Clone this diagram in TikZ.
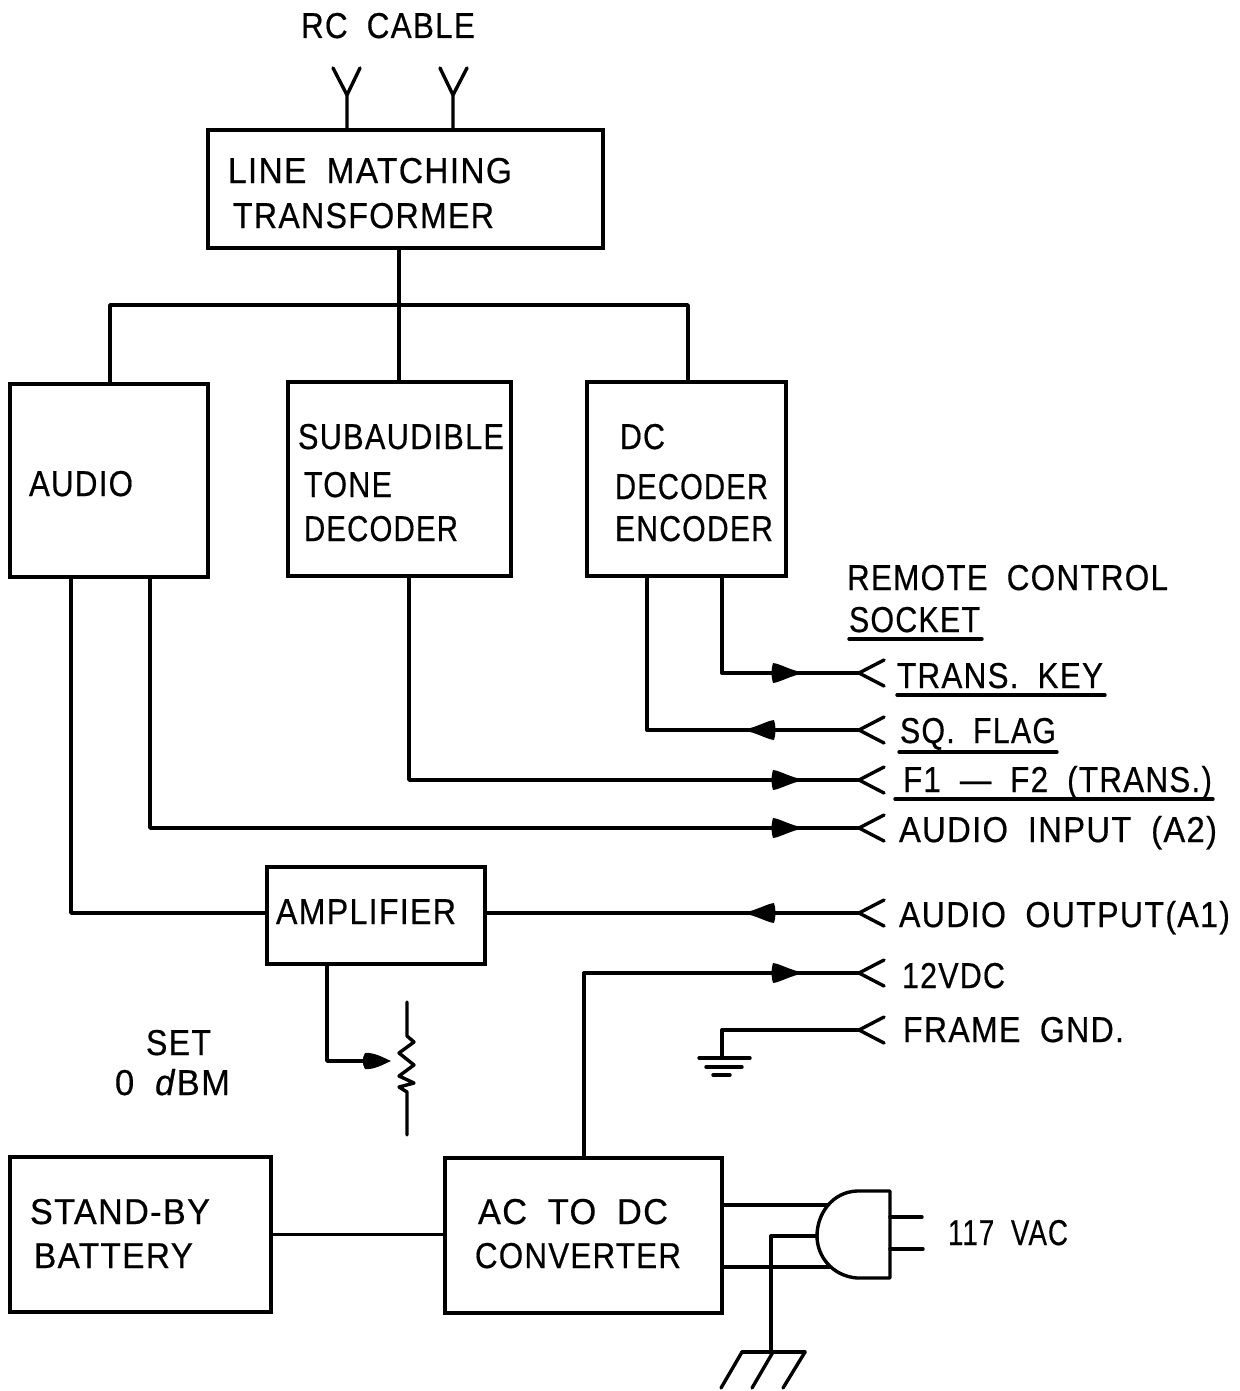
\documentclass[tikz,border=0pt]{standalone}
\usepackage{fontspec}
\usepackage{graphicx}
\setmainfont[FakeBold=0.5,LetterSpace=4,WordSpace=1.9]{Liberation Sans}
\newcommand{\lab}[5]{\node[lbl] (#1) at (#2,#3) {\resizebox{#4pt}{\height}{#5}};}
\tikzset{
  wire/.style={line width=3.4pt,line join=round,line cap=round,black},
  blockbox/.style={draw=black,line width=3.4pt,inner sep=0pt,outer sep=0pt,fill=none},
  lbl/.style={anchor=base west,inner sep=0pt,outer sep=0pt,text=black,font=\fontsize{36}{38}\selectfont},
  headr/.pic={\fill[black] (-16,-10) .. controls (-8,-9) and (0,-3) .. (16,0) .. controls (0,3) and (-8,9) .. (-16,10) .. controls (-18,4) and (-18,-4) .. (-16,-10) -- cycle;},
  headl/.pic={\fill[black] (16,-10) .. controls (8,-9) and (0,-3) .. (-16,0) .. controls (0,3) and (8,9) .. (16,10) .. controls (18,4) and (18,-4) .. (16,-10) -- cycle;},
}
\begin{document}
\begin{tikzpicture}[x=1pt,y=-1pt]
\useasboundingbox (0,0) rectangle (1239,1391);
\fill[white] (0,0) rectangle (1239,1391);
% blocks
\node[blockbox,minimum width=395pt,minimum height=118pt] (lmt) at (405.5,189) {};
\node[blockbox,minimum width=198pt,minimum height=193pt] (aud) at (109,480.5) {};
\node[blockbox,minimum width=223pt,minimum height=194pt] (sub) at (399.5,479) {};
\node[blockbox,minimum width=199pt,minimum height=194pt] (dc) at (686.5,479) {};
\node[blockbox,minimum width=218pt,minimum height=97pt] (amp) at (376,915.5) {};
\node[blockbox,minimum width=261pt,minimum height=155pt] (bat) at (140.5,1234.5) {};
\node[blockbox,minimum width=277pt,minimum height=155pt] (conv) at (583.5,1235.5) {};
% text
\lab{trc}{301}{38}{174}{RC CABLE}
\lab{t1}{228}{183}{284}{LINE MATCHING}
\lab{t2}{233}{228}{261}{TRANSFORMER}
\lab{t3}{29}{496}{104}{AUDIO}
\lab{t4}{298}{449}{206}{SUBAUDIBLE}
\lab{t5}{304}{497}{88}{TONE}
\lab{t6}{304}{541}{154}{DECODER}
\lab{t7}{620}{449}{45}{DC}
\lab{t8}{615}{499}{153}{DECODER}
\lab{t9}{615}{541}{158}{ENCODER}
\lab{t10}{847}{590}{321}{REMOTE CONTROL}
\lab{t11}{849}{632}{131}{SOCKET}
\lab{t12}{897}{688}{206}{TRANS. KEY}
\lab{t13}{900}{743}{156}{SQ. FLAG}
\lab{t14}{903}{792}{309}{F1 — F2 (TRANS.)}
\lab{t15}{899}{842}{318}{AUDIO INPUT (A2)}
\lab{t16}{276}{924}{180}{AMPLIFIER}
\lab{t17}{899}{927}{331}{AUDIO OUTPUT(A1)}
\lab{t18}{902}{988}{103}{12VDC}
\lab{t19}{903}{1042}{221}{FRAME GND.}
\lab{t20}{146}{1055}{65}{SET}
\lab{t21}{115}{1095}{115}{0 \textit{d}BM}
\lab{t22}{30}{1224}{180}{STAND-BY}
\lab{t23}{34}{1268}{159}{BATTERY}
\lab{t24}{478}{1224}{190}{AC TO DC}
\lab{t25}{475}{1268}{206}{CONVERTER}
\lab{t26}{948}{1245}{120}{117 VAC}
% underlines
\draw[wire] ([shift={(0,7)}]t11.base west) -- ([shift={(2,7)}]t11.base east);
\draw[wire] ([shift={(0,7)}]t12.base west) -- ([shift={(2,7)}]t12.base east);
\draw[wire] ([shift={(-1,9)}]t13.base west) -- ([shift={(1,9)}]t13.base east);
\draw[wire] ([shift={(-8,7)}]t14.base west) -- ([shift={(1,7)}]t14.base east);
% antennas
\coordinate (ya) at (347,95);
\coordinate (yb) at (453,95);
\draw[wire] (ya |- lmt.north) -- (ya) -- (333,68) (ya) -- (360,68);
\draw[wire] (yb |- lmt.north) -- (yb) -- (440,68) (yb) -- (467,68);
% bus
\coordinate (busl) at (110,305);
\coordinate (busr) at (688,305);
\coordinate (busm) at (399,305);
\draw[wire] (busm |- lmt.south) -- (busm |- sub.north);
\draw[wire] (busl |- aud.north) -- (busl) -- (busr) -- (busr |- dc.north);
% socket forks
\foreach \n/\y in {f1/673,f2/730,f3/780,f4/828,f5/913,f6/973,f7/1030}{
  \coordinate (\n) at (859,\y);
  \draw[wire] (884,\y-13) -- (\n) -- (884,\y+13);
}
\coordinate (k1) at (722,673);
\coordinate (k2) at (647,730);
\coordinate (k3) at (409,780);
\coordinate (k4) at (150,828);
\coordinate (k5) at (71,913);
\coordinate (k6) at (584,973);
\coordinate (k7) at (722,1030);
\coordinate (k8) at (722,1056);
\draw[wire] (k1 |- dc.south) -- (k1) -- (f1);
\draw[wire] (k2 |- dc.south) -- (k2) -- (f2);
\draw[wire] (k3 |- sub.south) -- (k3) -- (f3);
\draw[wire] (k4 |- aud.south) -- (k4) -- (f4);
\draw[wire] (k5 |- aud.south) -- (k5) -- (amp.west |- k5);
\draw[wire] (amp.east |- f5) -- (f5);
\draw[wire] (k6 |- conv.north) -- (k6) -- (f6);
\draw[wire] (f7) -- (k7) -- (k8);
% arrowheads
\pic at (789,673) {headr};
\pic at (758,730) {headl};
\pic at (789,780) {headr};
\pic at (789,828) {headr};
\pic at (758,913) {headl};
\pic at (789,973) {headr};
% frame ground
\draw[wire] (699,1058) -- (750,1058);
\draw[wire] (706,1067) -- (742,1067);
\draw[wire] (713,1075) -- (730,1075);
% amplifier to resistor
\coordinate (r1) at (327,1061);
\coordinate (r2) at (370,1061);
\draw[wire] (r1 |- amp.south) -- (r1) -- (r2);
\fill[black] (365,1053) .. controls (374,1052) and (384,1058) .. (391,1061) .. controls (384,1064) and (374,1070) .. (365,1069) .. controls (362,1064) and (362,1058) .. (365,1053) -- cycle;
\draw[wire] (407,1002) -- (407,1036) -- (414,1042) -- (399,1053) -- (414,1065) -- (399,1076) -- (414,1083) -- (399,1087) -- (407,1092) -- (407,1135);
% battery link
\draw[wire] (bat.east) -- (bat.east -| conv.west);
% plug
\coordinate (p1) at (828,1205);
\coordinate (p2) at (830,1267);
\coordinate (p3) at (817,1236);
\coordinate (p4) at (771,1236);
\coordinate (gnd) at (771,1352);
\draw[wire] (conv.east |- p1) -- (p1);
\draw[wire] (conv.east |- p2) -- (p2);
\draw[wire] (857,1191) -- (890,1191) -- (890,1278) -- (857,1278) .. controls (832,1276) and (817,1256) .. (817,1236) .. controls (817,1214) and (832,1192) .. (857,1191) -- cycle;
\draw[wire] (890,1217) -- (922,1217);
\draw[wire] (890,1249) -- (923,1249);
\draw[wire] (p3) -- (p4) -- (gnd);
\draw[wire] (742,1352) -- (805,1352);
\draw[wire] (742,1352) -- (721,1388);
\draw[wire] (gnd) ++(2,0) -- (752,1388);
\draw[wire] (805,1352) -- (783,1388);
\end{tikzpicture}
\end{document}
